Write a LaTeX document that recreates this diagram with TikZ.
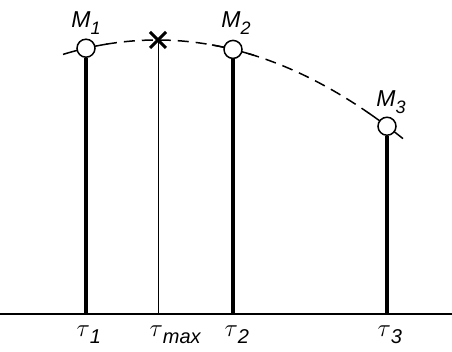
\documentclass[tikz,border=0pt]{standalone}
\usepackage{fontspec}
\newfontfamily\lab{Liberation Sans}
\newcommand{\Mlab}[1]{{\lab\itshape\fontsize{23}{23}\selectfont M\raisebox{-0.3em}{\fontsize{18}{18}\selectfont #1}}}
\newcommand{\Tlab}[1]{{\fontsize{30}{30}\selectfont$\tau$\raisebox{-0.25em}{\lab\itshape\fontsize{20}{20}\selectfont #1}}}
\tikzset{
  meas/.style={circle,draw,line width=1.5pt,fill=white,minimum size=18pt,inner sep=0pt},
  bar/.style={line width=4pt},
  curvesolid/.style={line width=1.5pt},
  curvedash/.style={line width=1.5pt,dash pattern=on 11pt off 7pt},
}
\begin{document}
\begin{tikzpicture}[x=1pt,y=-1pt]
\useasboundingbox (0,0) rectangle (452,352);
% baseline
\coordinate (L) at (0,314);
\coordinate (R) at (452,314);
\draw[line width=1.6pt] (L) -- (R);
% curve y = 40 + (0.04037 (x-157))^2
\draw[curvedash,domain=106:369,samples=60] plot (\x,{40+(0.04037*(\x-157))^2});
\draw[curvesolid,domain=63:107,samples=20] plot (\x,{40+(0.04037*(\x-157))^2});
\draw[curvesolid,domain=212:254,samples=20] plot (\x,{40+(0.04037*(\x-157))^2});
\draw[curvesolid,domain=368:403,samples=20] plot (\x,{40+(0.04037*(\x-157))^2});
% base points
\coordinate (b1) at (86,314);
\coordinate (bm) at (158,314);
\coordinate (b2) at (233,314);
\coordinate (b3) at (387,314);
% max
\coordinate (X) at (158,40);
\draw[line width=0.9pt] (X) -- (bm);
\draw[line width=3pt] ([shift={(-8,-8)}]X) -- ([shift={(8,8)}]X);
\draw[line width=3pt] ([shift={(-8,8)}]X) -- ([shift={(8,-8)}]X);
% measurement points
\node[meas] (m1) at (86,{40+(0.04037*(86-157))^2}) {};
\node[meas] (m2) at (233,{40+(0.04037*(233-157))^2}) {};
\node[meas] (m3) at (387,{40+(0.04037*(387-157))^2}) {};
\draw[bar] (m1.south) -- (b1);
\draw[bar] (m2.south) -- (b2);
\draw[bar] (m3.south) -- (b3);
% labels
\node[anchor=base] (lm1) at (86,28) {\Mlab{1}};
\node[anchor=base] (lm2) at (236,28) {\Mlab{2}};
\node[anchor=base] (lm3) at (391,107) {\Mlab{3}};
\node[anchor=base west] (t1) at (73,336) {\Tlab{1}};
\node[anchor=base west] (tm) at (146,336) {\Tlab{max}};
\node[anchor=base west] (t2) at (221,336) {\Tlab{2}};
\node[anchor=base west] (t3) at (374,336) {\Tlab{3}};
\end{tikzpicture}
\end{document}
